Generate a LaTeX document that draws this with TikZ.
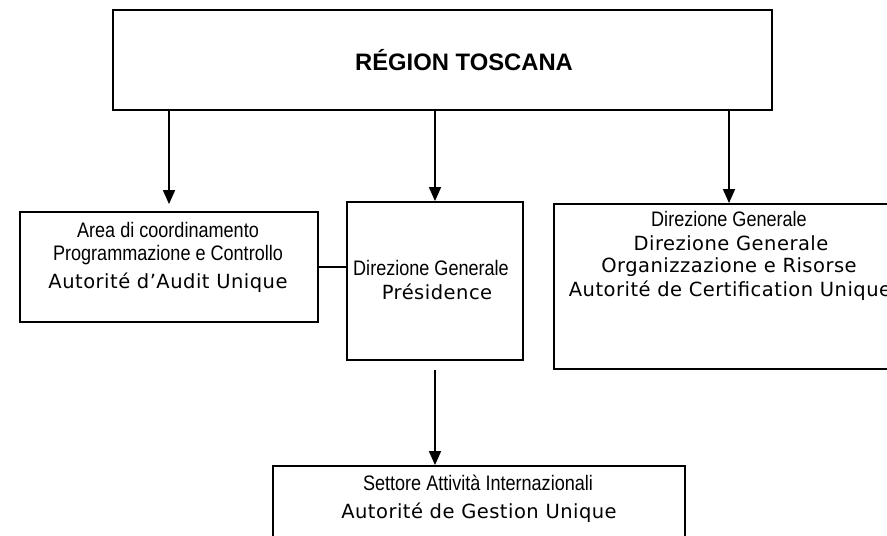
\documentclass[tikz,border=0pt]{standalone}
\usepackage{fontspec}
\setmainfont{Liberation Sans}
\newfontfamily\narrowfont[FakeStretch=0.86]{Liberation Sans}
\newfontfamily\widefont[LetterSpace=2.5]{DejaVu Sans}
\usetikzlibrary{arrows.meta}

\tikzset{
	box/.style={draw, line width=1.8bp, inner sep=0pt},
	narrow/.style={inner sep=0pt, font=\narrowfont\fontsize{21bp}{25bp}\selectfont},
	wide/.style={inner sep=0pt, font=\widefont\fontsize{19.5bp}{24bp}\selectfont},
	arr/.style={line width=1.6bp, -{Triangle[length=14bp,width=12bp]}},
}

\begin{document}
\begin{tikzpicture}[x=1bp,y=-1bp]
		\useasboundingbox (0,0) rectangle (887,536);
		\clip (0,0) rectangle (887,536);

		\node (region) [box, minimum width=659bp, minimum height=100bp] at (442.5,60) {};
		\node (regionT) [inner sep=0pt, font=\bfseries\fontsize{23.8bp}{28bp}\selectfont] at (464,60) {RÉGION TOSCANA};

		\node (audit) [box, minimum width=298bp, minimum height=110bp] at (169,267) {};
		\node (auditA) [narrow] at (168,230) {Area di coordinamento};
		\node (auditB) [narrow] at (168,255) {Programmazione e Controllo};
		\node (auditC) [wide] at (168,283) {Autorité d’Audit Unique};

		\node (pres) [box, minimum width=176bp, minimum height=158bp] at (435,281) {};
		\node (presA) [narrow] at (431,268) {Direzione Generale};
		\node (presB) [wide] at (437,292) {Présidence};

		\node (cert) [box, minimum width=380bp, minimum height=165bp] at (744,286.5) {};
		\node (certA) [narrow] at (729,219) {Direzione Generale};
		\node (certB) [wide] at (731,243) {Direzione Generale};
		\node (certC) [wide] at (729,267) {Organizzazione e Risorse};
		\node (certD) [wide] at (730,291) {Autorité de Certification Unique};

		\node (gest) [box, minimum width=412bp, minimum height=94bp] at (479,513) {};
		\node (gestA) [narrow] at (478,483) {Settore Attività Internazionali};
		\node (gestB) [wide] at (479,513) {Autorité de Gestion Unique};

		\draw[arr, shorten >=7bp] (region.south -| audit.north) -- (audit.north);
		\draw[arr] (region.south -| pres.north) -- (pres.north);
		\draw[arr] (region.south -| certA) -- (certA |- cert.north);
		\draw[line width=1.6bp] (audit.east) -- (audit.east -| pres.west);
		\draw[arr, shorten <=9bp] (pres.south) -- (pres.south |- gest.north);
	\end{tikzpicture}
\end{document}
